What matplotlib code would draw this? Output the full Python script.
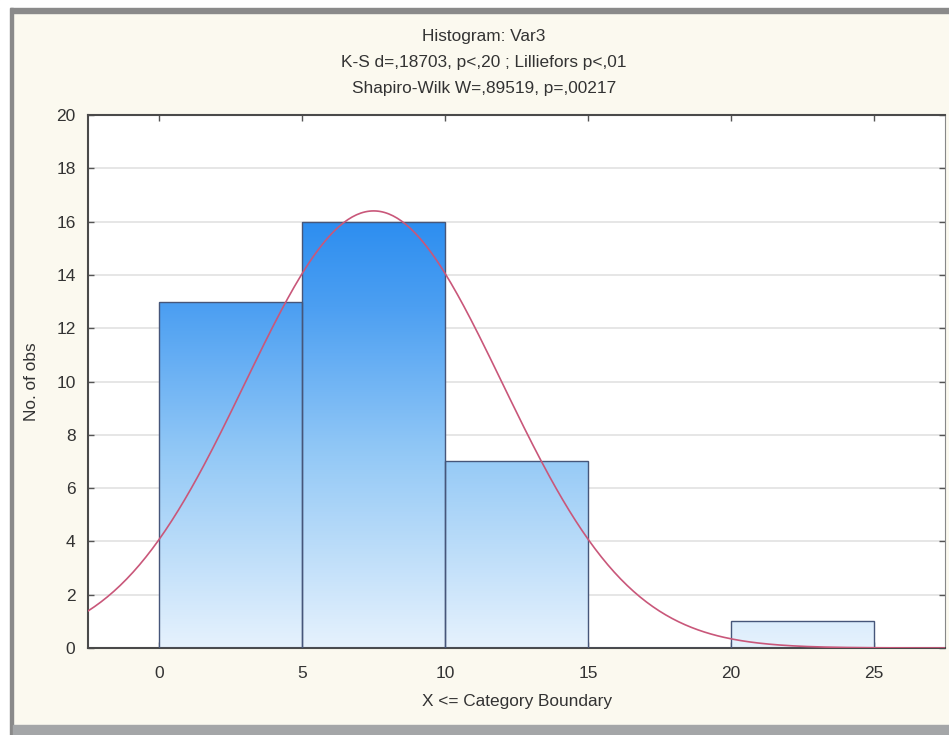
import matplotlib.pyplot as plt
import matplotlib.patches as mpatches
from matplotlib.colors import LinearSegmentedColormap
import numpy as np

# histogram data (category boundaries and counts)
bin_left = [0, 5, 10, 15, 20]
bin_width = 5
counts = [13, 16, 7, 0, 1]

# fitted normal curve parameters
fit_mean = 7.5
fit_sd = 4.5

title_lines = ["Histogram: Var3",
               "K-S d=,18703, p<,20 ; Lilliefors p<,01",
               "Shapiro-Wilk W=,89519, p=,00217"]
xticks = [0, 5, 10, 15, 20, 25]
yticks = [0, 2, 4, 6, 8, 10, 12, 14, 16, 18, 20]

plt.rcParams['font.family'] = ['Liberation Sans', 'DejaVu Sans']

W, H = 949, 735
fig = plt.figure(figsize=(W / 100, H / 100), dpi=100)
fig.patch.set_facecolor("#fbf9ef")

# window frame bits
fig.patches.append(mpatches.Rectangle((0, 1 - 8 / H), 1, 8 / H, transform=fig.transFigure,
                                      color="white", zorder=0))
fig.patches.append(mpatches.Rectangle((10 / W, 1 - 13 / H), 1, 5 / H, transform=fig.transFigure,
                                      color="#8a8a8a", zorder=0))
fig.patches.append(mpatches.Rectangle((0, 0), 10 / W, 1 - 8 / H, transform=fig.transFigure,
                                      color="white", zorder=0))
fig.patches.append(mpatches.Rectangle((10 / W, 0), 3 / W, 1 - 8 / H, transform=fig.transFigure,
                                      color="#8a8a8a", zorder=0))
fig.patches.append(mpatches.Rectangle((13 / W, 0), 1, 10 / H, transform=fig.transFigure,
                                      color="#a4a6a8", zorder=0))

ax = fig.add_axes([88 / W, 1 - 648 / H, (945 - 88) / W, (648 - 115) / H])
ax.set_facecolor("white")

bars = ax.bar(bin_left, counts, width=bin_width, align="edge",
              facecolor="none", edgecolor="#46567a", linewidth=1.0, zorder=3)

cmap = LinearSegmentedColormap.from_list(
    "blu", [(0.0, "#e6f2fd"), (0.45, "#94c9f6"), (0.8, "#4c9ff2"), (1.0, "#2d8ef0")])
grad = np.linspace(0, 1, 256).reshape(-1, 1)
for b in bars:
    if b.get_height() <= 0:
        continue
    x0 = b.get_x()
    im = ax.imshow(grad, extent=[x0, x0 + bin_width, 0, 16], origin="lower",
                   aspect="auto", cmap=cmap, zorder=2)
    im.set_clip_path(b)

xs = np.linspace(-2.5, 27.5, 400)
n_obs = sum(counts)
ys = n_obs * bin_width / (fit_sd * np.sqrt(2 * np.pi)) * np.exp(-0.5 * ((xs - fit_mean) / fit_sd) ** 2)
ax.plot(xs, ys, color="#c9577a", linewidth=1.2, zorder=4)

ax.set_xlim(-2.5, 27.5)
ax.set_ylim(0, 20)
ax.set_xticks(xticks)
ax.set_yticks(yticks)
ax.yaxis.grid(True, color="#e2e2e2", linewidth=1.2)
ax.set_axisbelow(True)
ax.tick_params(direction="in", length=4, width=1, colors="#555555", labelcolor="#333333",
               labelsize=12.5, top=True, right=True)
ax.tick_params(axis="y", pad=9)
ax.tick_params(axis="x", pad=13)
for s in ["left", "bottom", "top"]:
    ax.spines[s].set_color("#4a4a4a")
    ax.spines[s].set_linewidth(1.5)
ax.spines["right"].set_color("#888888")

ax.set_xlabel("X <= Category Boundary", fontsize=12.4, color="#333333", labelpad=9)
ax.set_ylabel("No. of obs", fontsize=12.4, color="#333333", labelpad=12)

for i, line in enumerate(title_lines):
    fig.text(484 / W, 1 - (36 + 26.5 * i) / H, line, ha="center", va="center",
             fontsize=12.4, color="#333333")

fig.savefig("out.png", dpi=100, facecolor=fig.get_facecolor())
